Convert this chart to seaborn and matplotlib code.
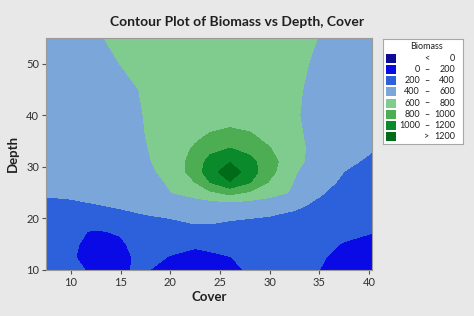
import numpy as np
import matplotlib
matplotlib.use("Agg")
import matplotlib.pyplot as plt
import seaborn as sns
from matplotlib.patches import Rectangle

# ---- data ----
cover = [7.5, 10, 12.5, 15, 17.5, 20, 22.5, 24, 26, 28, 30, 32.5, 35, 37.5, 40.5]
depth = [10, 12.5, 15, 17.5, 20, 22.5, 25, 27, 29, 31, 33.5, 36, 40, 45, 50, 55]

row_d10 = [290, 240, 170, 190, 215, 130, 110, 120, 150, 225, 290, 270, 200, 130, 100]
row_d12 = [290, 220, 120, 150, 260, 190, 160, 170, 195, 250, 290, 270, 220, 150, 120]
row_d15 = [300, 230, 140, 170, 300, 260, 220, 240, 280, 330, 320, 290, 240, 190, 160]
row_d17 = [320, 230, 185, 220, 345, 370, 380, 380, 375, 370, 350, 320, 280, 240, 205]
row_d20 = [345, 350, 360, 370, 385, 400, 415, 415, 405, 400, 385, 360, 320, 280, 260]
row_d22 = [380, 385, 395, 410, 435, 455, 470, 490, 500, 490, 470, 425, 370, 320, 280]
row_d25 = [410, 415, 435, 465, 505, 595, 690, 760, 860, 770, 680, 570, 415, 350, 300]
row_d27 = [420, 430, 455, 490, 530, 620, 800, 1000, 1190, 1010, 780, 590, 460, 370, 320]
row_d29 = [430, 440, 465, 505, 550, 660, 890, 1120, 1320, 1100, 860, 615, 490, 398, 340]
row_d31 = [440, 450, 475, 520, 570, 690, 870, 1080, 1190, 1060, 880, 650, 520, 430, 370]
row_d33 = [450, 460, 490, 540, 585, 710, 820, 930, 1010, 940, 810, 645, 545, 470, 405]
row_d36 = [460, 470, 500, 545, 600, 700, 770, 815, 850, 820, 750, 630, 545, 480, 440]
row_d40 = [470, 480, 510, 550, 605, 680, 710, 720, 725, 720, 700, 615, 545, 500, 460]
row_d45 = [470, 490, 520, 560, 615, 680, 700, 705, 705, 705, 690, 625, 550, 505, 480]
row_d50 = [480, 510, 550, 602, 660, 690, 700, 700, 700, 700, 690, 640, 570, 520, 490]
row_d55 = [500, 540, 580, 640, 680, 700, 710, 710, 710, 710, 700, 660, 595, 540, 500]

levels = [0, 200, 400, 600, 800, 1000, 1200]
level_colors = ["#0c0c96", "#0a0ae6", "#2d61dc", "#7ba6da", "#80cc8e",
                "#4cad52", "#0b8a2c", "#006b18"]

biomass = np.array([row_d10, row_d12, row_d15, row_d17, row_d20, row_d22,
                    row_d25, row_d27, row_d29, row_d31, row_d33, row_d36,
                    row_d40, row_d45, row_d50, row_d55], dtype=float)

# ---- figure ----
sns.set_theme(style="white")
plt.rcParams["font.family"] = ["Lato", "DejaVu Sans"]
bg = "#e8e8e8"
fig = plt.figure(figsize=(4.74, 3.16), dpi=100, facecolor=bg)
ax = fig.add_axes([46 / 474, 1 - 270 / 316, 326 / 474, 232 / 316])

palette = sns.color_palette(level_colors)
bounds = [-1e9] + levels + [1e9]
ax.contourf(cover, depth, biomass, levels=bounds, colors=palette)

ax.set_xlim(7.5, 40.3)
ax.set_ylim(10, 55)
ax.set_xticks([10, 15, 20, 25, 30, 35, 40])
ax.set_yticks([10, 20, 30, 40, 50])
ax.tick_params(axis="both", which="both", direction="out", length=3, width=0.8,
               color="#505050", labelsize=8, labelcolor="#303030", pad=2,
               bottom=True, left=True)
for s in ax.spines.values():
    s.set_color("#9a9a9a")
    s.set_linewidth(0.8)
ax.set_xlabel("Cover", fontsize=9.5, fontweight="bold", color="#202020", labelpad=2)
ax.set_ylabel("Depth", fontsize=9.5, fontweight="bold", color="#202020", labelpad=5)

fig.text(0.5, 1 - 22 / 316, "Contour Plot of Biomass vs Depth, Cover",
         ha="center", va="center", fontsize=10, fontweight="bold", color="#202020")

# ---- legend ----
lax = fig.add_axes([383 / 474, 1 - 144 / 316, 80 / 474, 105 / 316])
lax.set_xlim(383, 463)
lax.set_ylim(144, 39)
lax.set_xticks([])
lax.set_yticks([])
lax.set_facecolor("white")
for s in lax.spines.values():
    s.set_color("#a8a8a8")
    s.set_linewidth(0.8)
lax.text(427, 46.5, "Biomass", ha="center", va="center", fontsize=6.5, color="#202020")
lo_labels = [""] + [str(v) for v in levels[:-1]] + [""]
hi_labels = [str(levels[0])] + [str(v) for v in levels[1:]] + [str(levels[-1])]
mid_labels = ["<"] + ["–"] * (len(levels) - 1) + [">"]
for i, col in enumerate(level_colors):
    yc = 58.3 + i * 11.2
    lax.add_patch(Rectangle((386, yc - 4.5), 10, 9, facecolor=col, edgecolor="none"))
    lax.text(420, yc, lo_labels[i], ha="right", va="center", fontsize=6.5, color="#202020")
    lax.text(427, yc, mid_labels[i], ha="center", va="center", fontsize=6.5, color="#202020")
    lax.text(455, yc, hi_labels[i], ha="right", va="center", fontsize=6.5, color="#202020")

fig.savefig("out.png", dpi=100, facecolor=bg)
